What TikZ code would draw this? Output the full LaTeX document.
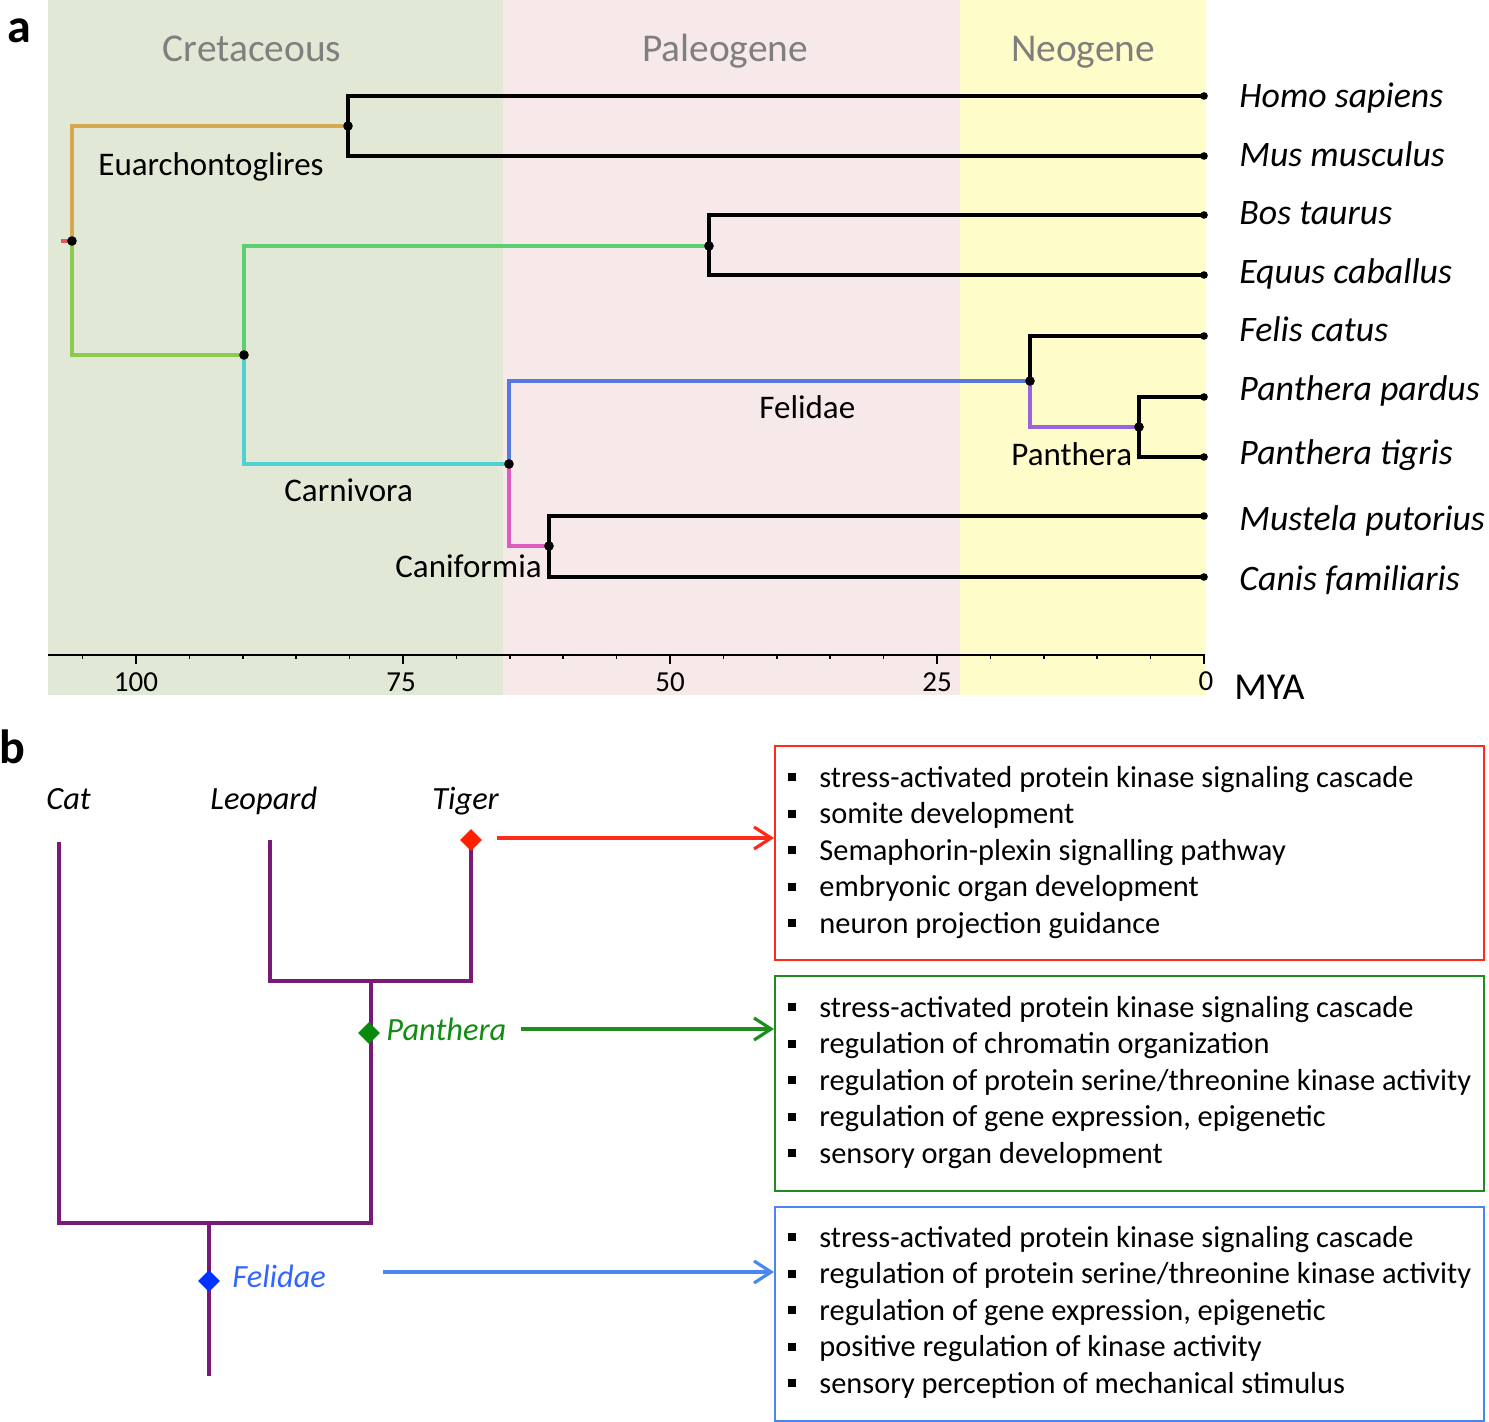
\documentclass[tikz,border=0pt]{standalone}
\usepackage{fontspec}
\setmainfont{Carlito}
\usetikzlibrary{shapes.geometric,arrows.meta}
\definecolor{cret}{HTML}{E2E8D6}
\definecolor{paleo}{HTML}{F7E9E9}
\definecolor{neo}{HTML}{FEFCC8}
\definecolor{eragray}{HTML}{7F7F7F}
\definecolor{cOrange}{HTML}{D4A94F}
\definecolor{cLime}{HTML}{8CCB50}
\definecolor{cGreen}{HTML}{5AD070}
\definecolor{cCyan}{HTML}{50D0D0}
\definecolor{cBlue}{HTML}{5878DC}
\definecolor{cPurple}{HTML}{9C64DC}
\definecolor{cPink}{HTML}{DC5CC0}
\definecolor{cRoot}{HTML}{E05858}
\definecolor{treepurple}{HTML}{7A1A78}
\definecolor{bred}{HTML}{FF2A1A}
\definecolor{bgreen}{HTML}{1E8C1E}
\definecolor{bblue}{HTML}{4A86F0}
\definecolor{dred}{HTML}{FF2000}
\definecolor{dgreen}{HTML}{0A8A0A}
\definecolor{dblue}{HTML}{0033FF}
\definecolor{tgreen}{HTML}{128C12}
\definecolor{tblue}{HTML}{3366FF}
\begin{document}
\begin{tikzpicture}[x=0.5pt,y=-0.5pt,
  br/.style={line width=1.6pt},
  blk/.style={br,black},
  dot/.style={circle,fill=black,inner sep=0pt,minimum size=4.8pt},
  tipdot/.style={circle,fill=black,inner sep=0pt,minimum size=3.8pt},
  spec/.style={anchor=base west,inner sep=0pt,font=\fontsize{17.9}{20}\selectfont\itshape},
  clade/.style={anchor=base west,inner sep=0pt,font=\fontsize{16.5}{19}\selectfont},
  era/.style={anchor=base,inner sep=0pt,text=eragray,font=\fontsize{19.7}{22}\selectfont},
  ticklab/.style={anchor=base,inner sep=0pt,font=\fontsize{14.5}{17}\selectfont},
  panel/.style={anchor=base west,inner sep=0pt,font=\fontsize{24}{28}\selectfont\bfseries},
  pb/.style={treepurple,line width=2.2pt},
  lbl/.style={anchor=base west,inner sep=0pt,font=\fontsize{16.2}{19}\selectfont\itshape},
  dia/.style={diamond,inner sep=0pt,minimum width=11pt,minimum height=11pt},
  arr/.style={line width=1.6pt,-{Straight Barb[length=8.5pt,width=11pt]}},
  gobox/.style={draw,line width=1pt,inner sep=0pt,minimum width=354.5pt,minimum height=107pt,anchor=north west},
  item/.style={anchor=base west,inner sep=0pt,font=\fontsize{15.2}{18}\selectfont},
  bul/.style={fill=black,inner sep=0pt,minimum size=4pt}
]
\useasboundingbox (0,0) rectangle (1489,1422);

% ---------- panel a backgrounds ----------
\fill[cret] (48,0) rectangle (503,695);
\fill[paleo] (503,0) rectangle (960,695);
\fill[neo] (960,0) rectangle (1206,695);

\node[panel] (pa) at (7,43) {a};
\node[era] (ecre) at (252,62) {Cretaceous};
\node[era] (epal) at (725,62) {Paleogene};
\node[era] (eneo) at (1083,62) {Neogene};

% ---------- tree coordinates ----------
\coordinate (stub) at (61,241);
\coordinate (root) at (72,241);
\coordinate (euar) at (348,126);
\coordinate (laur) at (244,355);
\coordinate (ungul) at (709,246);
\coordinate (carn) at (509,464);
\coordinate (feli) at (1030,381);
\coordinate (pant) at (1139,427);
\coordinate (cani) at (549,546);
\coordinate (homo) at (1204,96);
\coordinate (mus) at (1204,156);
\coordinate (bos) at (1204,215);
\coordinate (equus) at (1204,275);
\coordinate (felis) at (1204,336);
\coordinate (pardus) at (1204,397);
\coordinate (tigris) at (1204,457);
\coordinate (mustela) at (1204,516);
\coordinate (canis) at (1204,577);

% coloured branches
\draw[br,cRoot] (stub) -- (root);
\draw[br,cOrange] (root) |- (euar);
\draw[br,cLime] (root) |- (laur);
\draw[br,cGreen] (laur) |- (ungul);
\draw[br,cCyan] (laur) |- (carn);
\draw[br,cBlue] (carn) |- (feli);
\draw[br,cPink] (carn) |- (cani);
\draw[br,cPurple] (feli) |- (pant);
% black branches
\draw[blk] (euar) |- (homo);
\draw[blk] (euar) |- (mus);
\draw[blk] (ungul) |- (bos);
\draw[blk] (ungul) |- (equus);
\draw[blk] (feli) |- (felis);
\draw[blk] (pant) |- (pardus);
\draw[blk] (pant) |- (tigris);
\draw[blk] (cani) |- (mustela);
\draw[blk] (cani) |- (canis);

% node dots
\foreach \n in {root,euar,laur,ungul,carn,feli,pant,cani}
  \node[dot] (d\n) at (\n) {};
\foreach \n in {homo,mus,bos,equus,felis,pardus,tigris,mustela,canis}
  \node[tipdot] (d\n) at (\n) {};

% clade labels
\node[clade] (leuar) at (98,176) {Euarchontoglires};
\node[clade] (lcarn) at (284,502) {Carnivora};
\node[clade] (lcani) at (395,578) {Caniformia};
\node[clade] (lfeli) at (759,419) {Felidae};
\node[clade] (lpant) at (1011,466) {Panthera};

% species labels
\node[spec] (shomo) at (1239,108) {Homo sapiens};
\node[spec] (smus) at (1239,167) {Mus musculus};
\node[spec] (sbos) at (1239,225) {Bos taurus};
\node[spec] (sequus) at (1239,284) {Equus caballus};
\node[spec] (sfelis) at (1239,342) {Felis catus};
\node[spec] (spardus) at (1239,401) {Panthera pardus};
\node[spec] (stigris) at (1239,465) {Panthera tigris};
\node[spec] (smustela) at (1239,531) {Mustela putorius};
\node[spec] (scanis) at (1239,591) {Canis familiaris};

% time axis
\coordinate (axL) at (48,655);
\coordinate (axR) at (1205,655);
\draw[line width=1pt] (axL) -- (axR);
\foreach \t in {5,10,15,20,30,35,40,45,55,60,65,70,80,85,90,95,105}
  \draw[line width=0.8pt] ({1204-10.68*\t},655) -- ++(0,4.5);
\foreach \t in {0,25,50,75,100}
  \draw[line width=0.9pt] ({1204-10.68*\t},655) -- ++(0,9);
\node[ticklab] (t100) at (136,692) {100};
\node[ticklab] (t75) at (401,692) {75};
\node[ticklab] (t50) at (670,692) {50};
\node[ticklab] (t25) at (937,692) {25};
\node[ticklab] (t0) at (1206,690) {0};
\node[anchor=base west,inner sep=0pt,font=\fontsize{19}{22}\selectfont] (mya) at (1234,699) {MYA};

% ---------- panel b ----------
\node[panel] (pbl) at (-1,763) {b};
\node[lbl] (lcat) at (46,809) {Cat};
\node[lbl] (lleo) at (210,809) {Leopard};
\node[lbl] (ltig) at (432,809) {Tiger};

\coordinate (catT) at (59,842);
\coordinate (catB) at (59,1223);
\coordinate (leoT) at (270,840);
\coordinate (lpj) at (270,981);
\coordinate (tpj) at (471,981);
\coordinate (tigT) at (471,840);
\coordinate (pstem) at (371,981);
\coordinate (pbase) at (371,1223);
\coordinate (fj) at (209,1223);
\coordinate (froot) at (209,1376);

\draw[pb] (leoT) -- (lpj) -- (tpj) -- (tigT);
\draw[pb] (catT) -- (catB) -- (pbase) -- (pstem);
\draw[pb] (fj) -- (froot);

\node[dia,fill=dred] (tigd) at (471,840) {};
\node[dia,fill=dgreen] (pand) at (369,1033) {};
\node[dia,fill=dblue] (feld) at (209,1281) {};

\node[lbl,text=tgreen] (lpanb) at (386,1040) {Panthera};
\node[lbl,text=tblue] (lfelb) at (232,1287) {Felidae};

% boxes
\node[gobox,draw=bred] (rbox) at (774,745) {};
\node[gobox,draw=bgreen,minimum height=107.5pt] (gbox) at (774,975) {};
\node[gobox,draw=bblue] (bbox) at (774,1206) {};

% arrows
\coordinate (tarr) at (497,838);
\coordinate (parr) at (521,1029);
\coordinate (farr) at (383,1272);
\draw[arr,bred] (tarr) -- (tarr -| rbox.west);
\draw[arr,bgreen] (parr) -- (parr -| gbox.west);
\draw[arr,bblue] (farr) -- (farr -| bbox.west);

% box items
\foreach \t [count=\i] in {stress-activated protein kinase signaling cascade, somite development, Semaphorin-plexin signalling pathway, embryonic organ development, neuron projection guidance} {
  \node[item] (r\i) at (819,{787+36.5*(\i-1)}) {\t};
  \node[bul] (rb\i) at (792,{777+36.5*(\i-1)}) {};
}
\foreach \t [count=\i] in {stress-activated protein kinase signaling cascade, regulation of chromatin organization, regulation of protein serine/threonine kinase activity, {regulation of gene expression, epigenetic}, sensory organ development} {
  \node[item] (g\i) at (819,{1017+36.5*(\i-1)}) {\t};
  \node[bul] (gb\i) at (792,{1007+36.5*(\i-1)}) {};
}
\foreach \t [count=\i] in {stress-activated protein kinase signaling cascade, regulation of protein serine/threonine kinase activity, {regulation of gene expression, epigenetic}, positive regulation of kinase activity, sensory perception of mechanical stimulus} {
  \node[item] (b\i) at (819,{1247+36.5*(\i-1)}) {\t};
  \node[bul] (bb\i) at (792,{1237+36.5*(\i-1)}) {};
}
\end{tikzpicture}
\end{document}
